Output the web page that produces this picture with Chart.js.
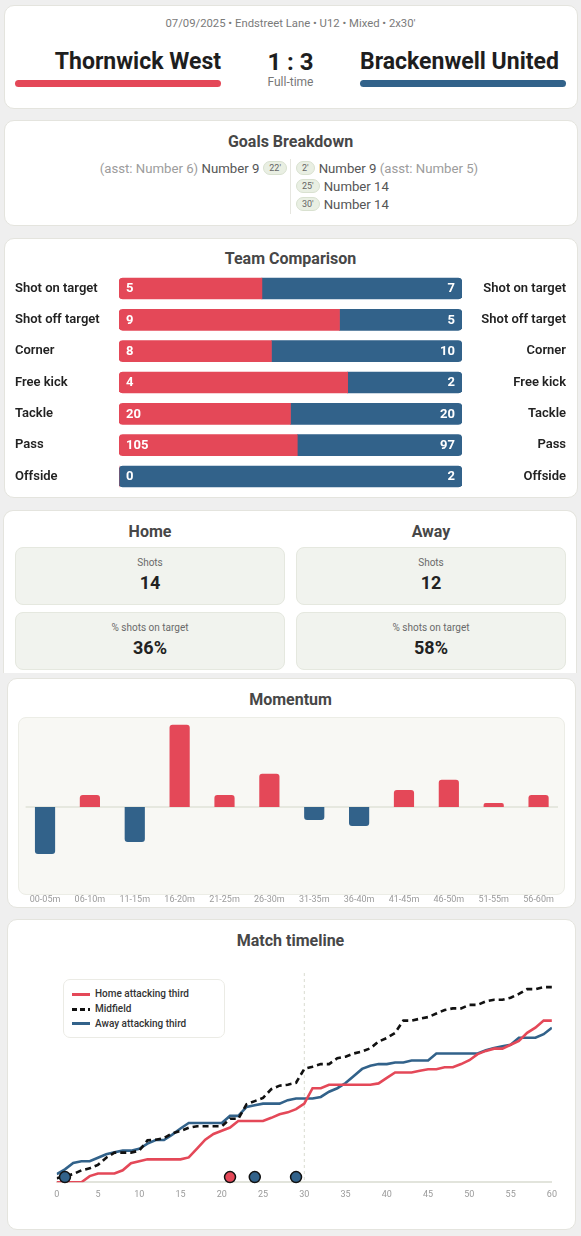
<!DOCTYPE html>
<html><head><meta charset="utf-8">
<script src="https://cdn.jsdelivr.net/npm/chart.js@4.4.1/dist/chart.umd.min.js"></script>
<style>
html,body{margin:0;padding:0;}
body{width:581px;height:1236px;background:#efefef;font-family:Roboto,"Noto Sans",sans-serif;position:relative;overflow:hidden;}
.card{position:absolute;background:#fff;border:1px solid #e4e4de;border-radius:10px;box-sizing:border-box;}
.abs{position:absolute;white-space:nowrap;}
.title{position:absolute;left:0;width:581px;text-align:center;font-size:16px;font-weight:700;color:#474747;line-height:20px;height:20px;}
.pill{display:inline-block;font-size:9px;line-height:12px;height:12px;padding:0 5px;border:1px solid #d9e1d0;background:#e9efe3;color:#666;border-radius:7px;}
.row{position:absolute;display:flex;align-items:center;height:16px;font-size:13.2px;white-space:nowrap;}
.box{position:absolute;background:#f1f3ee;border:1px solid #e5e8df;border-radius:8px;box-sizing:border-box;}
.lbl{position:absolute;text-align:center;font-size:10px;color:#6a6a6a;line-height:14px;height:14px;}
.val{position:absolute;text-align:center;font-size:18px;font-weight:700;color:#222;line-height:22px;height:22px;}
canvas{position:absolute;}
</style></head>
<body>
<!-- cards -->
<div class="card" style="left:4px;top:5px;width:574px;height:104px;"></div>
<div class="card" style="left:4px;top:120px;width:574px;height:106px;"></div>
<div class="card" style="left:4px;top:238px;width:574px;height:260px;"></div>
<div class="card" style="left:3px;top:510px;width:574px;height:163px;border-bottom:none;border-radius:10px 10px 0 0;"></div>
<div class="card" style="left:7px;top:678px;width:569px;height:230px;"></div>
<div class="card" style="left:7px;top:919px;width:569px;height:311px;"></div>

<!-- header -->
<div class="abs" id="meta" style="left:0;width:581px;top:16px;height:16px;line-height:16px;text-align:center;font-size:11.3px;color:#7a7a7a;"></div>
<div class="abs" id="homeName" style="left:15px;width:206px;top:48px;height:28px;line-height:28px;text-align:right;font-size:23px;font-weight:700;color:#1e1e1e;"></div>
<div class="abs" id="score" style="left:221px;width:139px;top:48px;height:28px;line-height:28px;text-align:center;font-size:24px;font-weight:700;color:#1e1e1e;"></div>
<div class="abs" id="awayName" style="left:360px;width:206px;top:48px;height:28px;line-height:28px;text-align:left;font-size:23px;font-weight:700;color:#1e1e1e;"></div>
<div class="abs" id="status" style="left:221px;width:139px;top:75px;height:14px;line-height:14px;text-align:center;font-size:12px;color:#777;"></div>
<div class="abs" style="left:15px;width:206px;top:80px;height:6.5px;border-radius:4px;background:#e44858;"></div>
<div class="abs" style="left:360px;width:206px;top:80px;height:6.5px;border-radius:4px;background:#32628a;"></div>

<!-- goals -->
<div class="title" style="top:132px;">Goals Breakdown</div>
<div class="abs" style="left:290px;top:159px;width:1px;height:55px;background:#e6e6e0;"></div>
<div id="goals"></div>

<!-- comparison -->
<div class="title" style="top:249px;">Team Comparison</div>
<canvas id="cmp" width="551" height="235" style="left:15px;top:265px;width:551px;height:235px;"></canvas>

<!-- stats -->
<div class="title" style="top:522px;left:15px;width:270px;">Home</div>
<div class="title" style="top:522px;left:296px;width:270px;">Away</div>
<div id="stats"></div>

<!-- momentum -->
<div class="title" style="top:690px;">Momentum</div>
<div class="abs" style="left:18px;top:716.5px;width:547px;height:178px;background:#f8f8f4;border:1px solid #ecede6;border-radius:8px;box-sizing:border-box;"></div>
<canvas id="mom" width="547" height="190" style="left:18px;top:716px;width:547px;height:190px;"></canvas>

<!-- timeline -->
<div class="title" style="top:931px;">Match timeline</div>
<canvas id="tl" width="547" height="247" style="left:18px;top:960px;width:547px;height:247px;"></canvas>
<div id="legend" class="abs" style="left:63px;top:979px;width:162px;height:59px;background:#fff;border:1px solid #ebebe5;border-radius:7px;box-sizing:border-box;"></div>

<script>
// ---------- data ----------
const matchMeta = "07/09/2025 • Endstreet Lane • U12 • Mixed • 2x30'";
const homeTeam = 'Thornwick West';
const awayTeam = 'Brackenwell United';
const homeScore = 1;
const awayScore = 3;
const matchStatus = 'Full-time';

const homeGoals = [{min:22, scorer:'Number 9', assist:'Number 6'}];
const awayGoals = [{min:2, scorer:'Number 9', assist:'Number 5'},{min:25, scorer:'Number 14', assist:null},{min:30, scorer:'Number 14', assist:null}];

const compLabels = ['Shot on target','Shot off target','Corner','Free kick','Tackle','Pass','Offside'];
const homeStats = [5, 9, 8, 4, 20, 105, 0];
const awayStats = [7, 5, 10, 2, 20, 97, 2];

const summaryLabels = ['Shots','% shots on target'];
const homeSummary = ['14','36%'];
const awaySummary = ['12','58%'];

const momentumLabels = ['00-05m','06-10m','11-15m','16-20m','21-25m','26-30m','31-35m','36-40m','41-45m','46-50m','51-55m','56-60m'];
const momentumValues = [-47, 12, -35, 82, 12, 33, -13, -19, 17, 27, 4, 12];

const minutes = [0,1,2,3,4,5,6,7,8,9,10,11,12,13,14,15,16,17,18,19,20,21,22,23,24,25,26,27,28,29,30,31,32,33,34,35,36,37,38,39,40,41,42,43,44,45,46,47,48,49,50,51,52,53,54,55,56,57,58,59,60];
const homeAttack = [0,0,0,0,1.9,2.7,2.7,2.7,3.7,5.9,6.5,7.1,7.1,7.1,7.1,7.1,7.7,10.4,13.2,15.0,16.0,17.0,19.0,19.0,19.0,19.0,20.0,21.1,21.7,22.7,24.4,29.2,29.2,30.3,30.3,30.3,30.3,30.3,30.3,30.7,32.4,34.1,34.1,34.1,34.6,35.1,35.1,35.7,35.7,36.7,37.9,39.8,40.8,41.5,41.5,42.7,43.9,46.4,48.0,50.2,50.2];
const midfield = [1.2,1.9,2.5,3.7,4.3,5.4,7.6,9.2,9.2,9.2,9.8,13.0,13.2,13.7,15.2,15.9,16.9,17.4,17.4,17.4,17.4,19.7,19.7,24.2,25.2,26.2,28.9,30.0,30.3,30.9,35.2,35.9,36.7,36.7,38.5,39.0,40.0,40.6,41.6,43.7,44.8,46.4,50.2,50.2,50.8,51.3,52.4,53.5,54.0,54.0,55.1,55.1,56.2,56.7,56.7,57.3,58.5,60.0,60.0,60.6,60.6];
const awayAttack = [2.5,4.0,6.0,6.5,6.5,7.6,8.7,9.3,9.8,9.8,10.4,12.0,13.1,13.1,14.8,16.7,18.4,18.4,18.4,18.4,18.4,20.6,20.6,23.4,23.9,24.4,24.4,24.4,25.5,26.0,26.0,26.0,26.5,28.1,29.2,30.8,33.0,35.2,36.2,36.7,36.7,37.2,37.2,37.8,37.8,37.8,40.0,40.0,40.0,40.0,40.0,40.0,41.0,41.7,42.2,42.7,44.9,44.9,44.9,46.0,48.0];
const seriesLabels = ['Home attacking third','Midfield','Away attacking third'];
const halfTime = 30;
const goalMarkerLevel = 1.6;

const RED = '#e44858';
const BLUE = '#32628a';

// ---------- header / goals / stats (HTML text) ----------
document.getElementById('meta').textContent = matchMeta;
document.getElementById('homeName').textContent = homeTeam;
document.getElementById('awayName').textContent = awayTeam;
document.getElementById('score').textContent = homeScore + ' : ' + awayScore;
document.getElementById('status').textContent = matchStatus;

const goalsEl = document.getElementById('goals');
const rowY = [168, 186, 204];
homeGoals.forEach((g, i) => {
  const d = document.createElement('div');
  d.className = 'row';
  d.style.right = (581 - 287) + 'px';
  d.style.top = (rowY[i] - 8) + 'px';
  d.innerHTML = (g.assist ? '<span style="color:#9c9c9c">(asst: ' + g.assist + ')</span>&nbsp;' : '') +
    '<span style="color:#555">' + g.scorer + '</span><span style="width:4px"></span><span class="pill">' + g.min + '\'</span>';
  goalsEl.appendChild(d);
});
awayGoals.forEach((g, i) => {
  const d = document.createElement('div');
  d.className = 'row';
  d.style.left = '296px';
  d.style.top = (rowY[i] - 8) + 'px';
  d.innerHTML = '<span class="pill">' + g.min + '\'</span><span style="width:4px"></span><span style="color:#555">' + g.scorer + '</span>' +
    (g.assist ? '&nbsp;<span style="color:#9c9c9c">(asst: ' + g.assist + ')</span>' : '');
  goalsEl.appendChild(d);
});

const statsEl = document.getElementById('stats');
const boxTops = [546.7, 611.7];
[[15, homeSummary], [296, awaySummary]].forEach(([x, vals]) => {
  summaryLabels.forEach((lab, i) => {
    const t = boxTops[i];
    statsEl.insertAdjacentHTML('beforeend',
      '<div class="box" style="left:' + x + 'px;top:' + t + 'px;width:270px;height:58.3px;"></div>' +
      '<div class="lbl" style="left:' + x + 'px;width:270px;top:' + (t + 9.3) + 'px;">' + lab + '</div>' +
      '<div class="val" style="left:' + x + 'px;width:270px;top:' + (t + 25.5) + 'px;">' + vals[i] + '</div>');
  });
});

// ---------- charts ----------
Chart.defaults.font.family = 'Roboto';
Chart.defaults.animation = false;

// Team comparison
const homeShare = homeStats.map((h, i) => (h + awayStats[i]) ? h / (h + awayStats[i]) : 0.5);
const awayShare = awayStats.map((a, i) => (homeStats[i] + a) ? a / (homeStats[i] + a) : 0.5);
const sideTicks = {crossAlign: 'far', padding: 0, color: '#222', font: {size: 13, weight: '600'}};
const valuePlugin = {
  id: 'vals',
  afterDatasetsDraw(chart) {
    const {ctx, chartArea} = chart;
    const meta = chart.getDatasetMeta(0);
    ctx.save();
    ctx.font = '700 13px Roboto';
    ctx.fillStyle = '#fff';
    ctx.textBaseline = 'middle';
    meta.data.forEach((bar, i) => {
      ctx.textAlign = 'left';
      ctx.fillText(String(homeStats[i]), chartArea.left + 7, bar.y + 0.5);
      ctx.textAlign = 'right';
      ctx.fillText(String(awayStats[i]), chartArea.right - 7, bar.y + 0.5);
    });
    ctx.restore();
  }
};
new Chart(document.getElementById('cmp'), {
  type: 'bar',
  data: {
    labels: compLabels,
    datasets: [
      {data: homeShare, backgroundColor: RED, borderSkipped: false, barThickness: 21,
       borderRadius: c => { const r = awayStats[c.dataIndex] === 0 ? 4 : 0; return {topLeft: 4, bottomLeft: 4, topRight: r, bottomRight: r}; }},
      {data: awayShare, backgroundColor: BLUE, borderSkipped: false, barThickness: 21,
       borderRadius: c => { const r = homeStats[c.dataIndex] === 0 ? 4 : 0; return {topLeft: r, bottomLeft: r, topRight: 4, bottomRight: 4}; }}
    ]
  },
  options: {
    indexAxis: 'y', responsive: false, maintainAspectRatio: false,
    plugins: {legend: {display: false}, tooltip: {enabled: false}},
    layout: {padding: 0},
    scales: {
      x: {stacked: true, display: false, min: 0, max: 1},
      y: {stacked: true, position: 'left', offset: true, grid: {display: false, drawTicks: false}, border: {display: false}, ticks: sideTicks, afterFit(s) { s.width = 104; }},
      y2: {type: 'category', labels: compLabels, position: 'right', offset: true, grid: {display: false, drawTicks: false}, border: {display: false}, ticks: sideTicks, afterFit(s) { s.width = 104; }}
    }
  },
  plugins: [valuePlugin]
});

// Momentum
const zeroLine = {
  id: 'zero',
  beforeDatasetsDraw(chart) {
    const {ctx, chartArea, scales} = chart;
    const y = scales.y.getPixelForValue(0);
    ctx.save();
    ctx.strokeStyle = '#e6e8df';
    ctx.lineWidth = 2;
    ctx.beginPath();
    ctx.moveTo(chartArea.left + 3, y);
    ctx.lineTo(chartArea.right - 3, y);
    ctx.stroke();
    ctx.restore();
  }
};
new Chart(document.getElementById('mom'), {
  type: 'bar',
  data: {
    labels: momentumLabels,
    datasets: [{data: momentumValues, backgroundColor: c => (c.raw >= 0 ? RED : BLUE), borderRadius: 3, barPercentage: 0.9, categoryPercentage: 0.5}]
  },
  options: {
    responsive: false, maintainAspectRatio: false,
    plugins: {legend: {display: false}, tooltip: {enabled: false}},
    layout: {padding: {left: 4.6, right: 4, top: 4.7, bottom: 0}},
    scales: {
      x: {grid: {display: false, drawTicks: false}, border: {display: false}, ticks: {color: '#9a9a9a', font: {size: 9}, padding: 1, maxRotation: 0, autoSkip: false}},
      y: {display: false, min: -86, max: 86}
    }
  },
  plugins: [zeroLine]
});

// Timeline
const halfLine = {
  id: 'half',
  beforeDatasetsDraw(chart) {
    const {ctx, chartArea, scales} = chart;
    const x = scales.x.getPixelForValue(halfTime);
    ctx.save();
    ctx.strokeStyle = '#d9dbd0';
    ctx.lineWidth = 1;
    ctx.setLineDash([3, 3]);
    ctx.beginPath();
    ctx.moveTo(x, chartArea.top);
    ctx.lineTo(x, chartArea.bottom);
    ctx.stroke();
    ctx.restore();
  }
};
const pts = arr => arr.map((v, i) => ({x: minutes[i], y: v}));
const markers = homeGoals.map(g => ({x: g.min - 1, y: goalMarkerLevel, c: RED}))
  .concat(awayGoals.map(g => ({x: g.min - 1, y: goalMarkerLevel, c: BLUE})));
new Chart(document.getElementById('tl'), {
  type: 'line',
  data: {
    datasets: [
      {label: 'Goals', data: markers, showLine: false, pointRadius: 5.5, pointBackgroundColor: markers.map(m => m.c), pointBorderColor: '#111', pointBorderWidth: 1.5, order: -1, clip: false},
      {label: seriesLabels[0], data: pts(homeAttack), borderColor: RED, borderWidth: 2.6, pointRadius: 0, tension: 0, fill: false, order: 1},
      {label: seriesLabels[1], data: pts(midfield), borderColor: '#111', borderDash: [6, 4], borderWidth: 2.6, pointRadius: 0, tension: 0, fill: false, order: 2},
      {label: seriesLabels[2], data: pts(awayAttack), borderColor: BLUE, borderWidth: 2.6, pointRadius: 0, tension: 0, fill: false, order: 3}
    ]
  },
  options: {
    responsive: false, maintainAspectRatio: false,
    plugins: {legend: {display: false}, tooltip: {enabled: false}},
    layout: {padding: {left: 38.7, right: 13.1, top: 13, bottom: 0}},
    scales: {
      x: {type: 'linear', min: 0, max: 60, grid: {display: false, drawTicks: false}, border: {display: true, color: '#e2e4dc', width: 2},
          ticks: {stepSize: 5, color: '#9a9a9a', font: {size: 9}, padding: 7, maxRotation: 0}},
      y: {display: false, min: 0, max: 65}
    }
  },
  plugins: [halfLine]
});

// legend (HTML)
const legendEl = document.getElementById('legend');
const legendStyles = [
  'background:' + RED,
  'background:repeating-linear-gradient(90deg,#111 0 5px,transparent 5px 8px)',
  'background:' + BLUE
];
const legendRowY = [993.3, 1008.3, 1022.7];
seriesLabels.forEach((lab, i) => {
  const top = legendRowY[i] - 979;
  legendEl.insertAdjacentHTML('beforeend',
    '<div class="abs" style="left:8px;top:' + (top - 1.5) + 'px;width:17.6px;height:3px;' + legendStyles[i] + '"></div>' +
    '<div class="abs" style="left:31px;top:' + (top - 7) + 'px;height:14px;line-height:14px;font-size:10px;font-weight:500;color:#333;">' + lab + '</div>');
});
</script>
</body></html>
